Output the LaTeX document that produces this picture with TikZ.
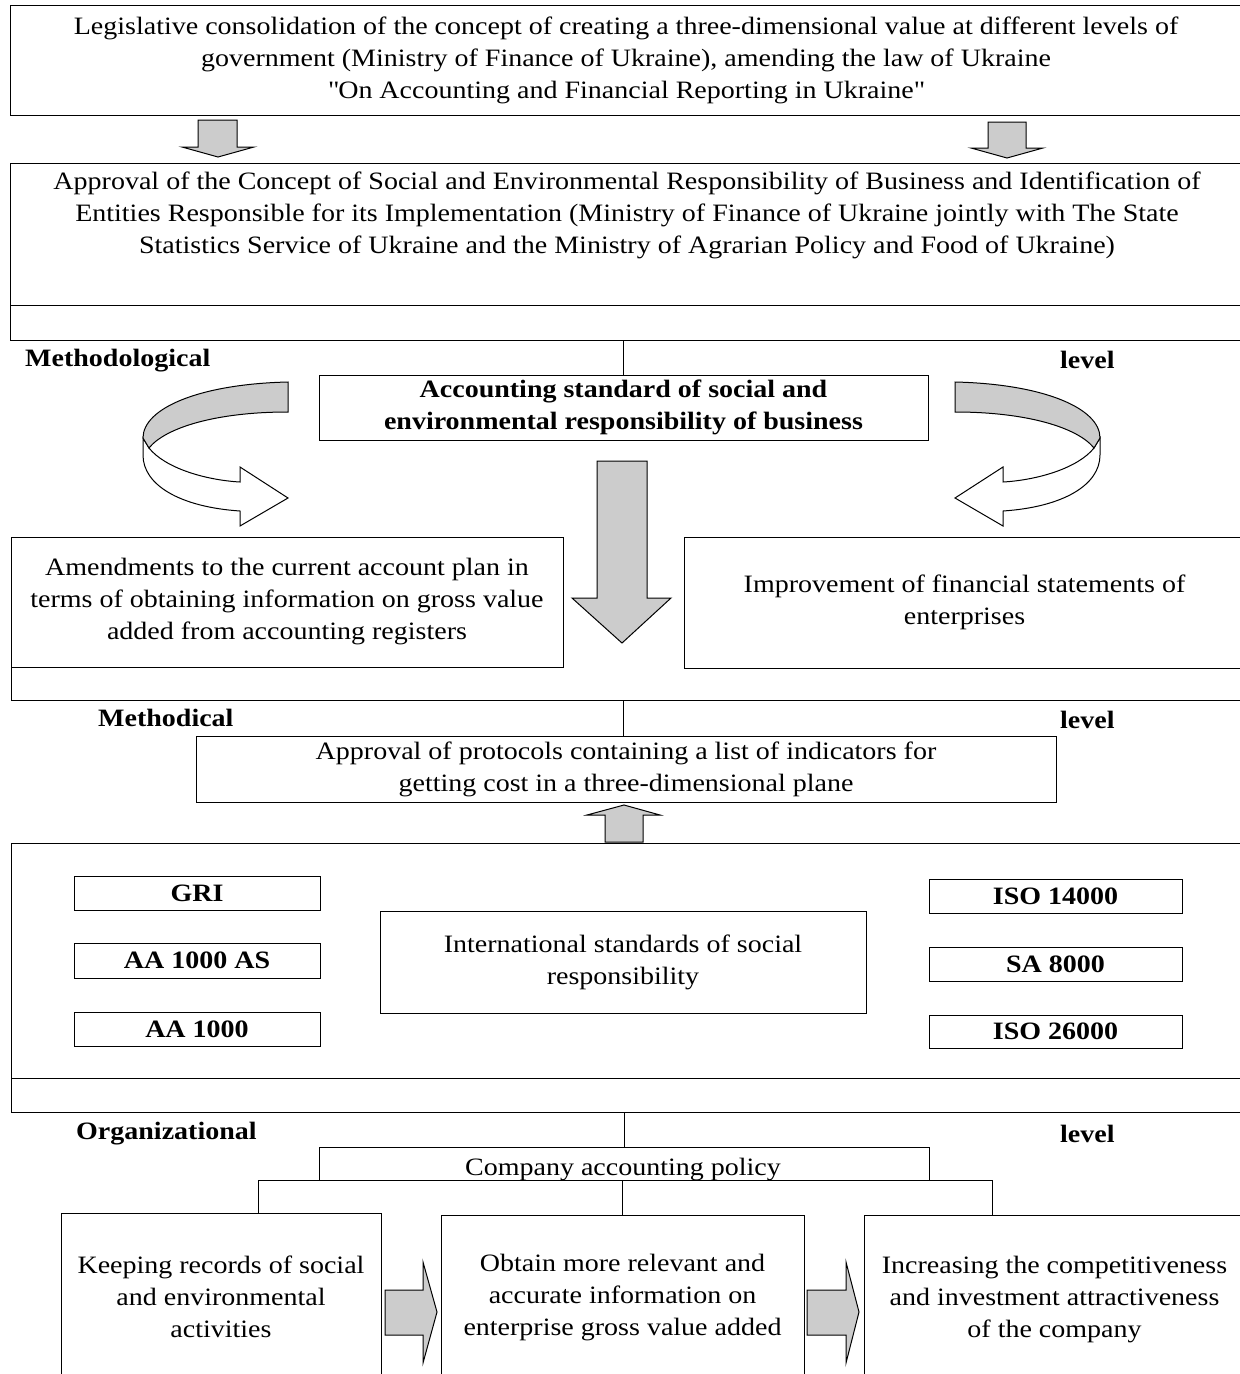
\documentclass[tikz,border=0pt]{standalone}
\usepackage{fontspec}
\setmainfont{Liberation Serif}[FakeStretch=1.12]
\newcommand\curlarr{%
  \draw[blk, fill=white] (149,448) .. controls (165,468) and (205,480) .. (240,482) -- (240,467) -- (288,498) -- (240,526) -- (240,511) .. controls (180,507) and (143,485) .. (143,455) -- (143,438) -- cycle;
  \draw[blk] (288,382) .. controls (200,384) and (143,408) .. (143,438) -- (149,448) .. controls (165,428) and (215,412) .. (288,412) -- cycle;}
\begin{document}
\begin{tikzpicture}[x=1pt,y=-1pt,
  every node/.style={font=\fontsize{25}{32}\selectfont},
  box/.style={draw, line width=1pt, inner sep=0pt, align=center},
  bbox/.style={box, font=\fontsize{25}{32}\selectfont\bfseries},
  txt/.style={inner sep=0pt, align=center},
  lvl/.style={font=\fontsize{25}{32}\selectfont\bfseries, inner sep=0pt, anchor=base west},
  blk/.style={draw, line width=1pt, fill=gray!40, line join=miter},
  ln/.style={line width=1pt}]
\useasboundingbox (0,0) rectangle (1240,1374);
\clip (0,0) rectangle (1240,1374);

% top boxes
\node[box, minimum width=1232pt, minimum height=110pt] (law) at (626,60)
  {Legislative consolidation of the concept of creating a three-dimensional value at different levels of\\
   government (Ministry of Finance of Ukraine), amending the law of Ukraine\\
   \textquotedbl On Accounting and Financial Reporting in Ukraine\textquotedbl};
\node[box, minimum width=1234pt, minimum height=142pt] (concept) at (627,234) {};
\node[txt] (concepttxt) at (627,215)
  {Approval of the Concept of Social and Environmental Responsibility of Business and Identification of\\
   Entities Responsible for its Implementation (Ministry of Finance of Ukraine jointly with The State\\
   Statistics Service of Ukraine and the Ministry of Agrarian Policy and Food of Ukraine)};
\draw[blk] (198,120) -- (237,120) -- (237,147) -- (254,147) -- (218,157) -- (182,147) -- (198,147) -- cycle;
\draw[blk] (988,122) -- (1026,122) -- (1026,148) -- (1043,148) -- (1007,158) -- (971,148) -- (988,148) -- cycle;

% methodological band
\draw[ln] (10,305) -- (10,340) -- (1250,340);
\coordinate (band1) at (623.5,340);
\node[lvl] (methlog) at (25,366) {Methodological};
\node[lvl] (lvl1) at (1060,368) {level};
\node[bbox, minimum width=609pt, minimum height=65pt] (acc) at (623.5,407.5)
  {Accounting standard of social and\\ environmental responsibility of business};
\draw[ln] (band1) -- (acc.north);
\curlarr
\begin{scope}[shift={(1243,0)}, xscale=-1]
\curlarr
\end{scope}
\node[box, minimum width=552pt, minimum height=130pt] (amend) at (287,602)
  {Amendments to the current account plan in\\ terms of obtaining information on gross value\\ added from accounting registers};
\node[box, minimum width=561pt, minimum height=131pt] (improve) at (964.5,602.5)
  {Improvement of financial statements of\\ enterprises};
\draw[blk] (597,461) -- (647,461) -- (647,598) -- (671,598) -- (622,643) -- (572,598) -- (597,598) -- cycle;

% methodical band
\draw[ln] (11,667) -- (11,700) -- (1250,700);
\coordinate (band2) at (623,700);
\node[lvl] (methcal) at (98,726) {Methodical};
\node[lvl] (lvl2) at (1060,728) {level};
\node[box, minimum width=860pt, minimum height=66pt] (proto) at (626,769)
  {Approval of protocols containing a list of indicators for\\ getting cost in a three-dimensional plane};
\draw[ln] (band2) -- (band2 |- proto.north);

% standards
\node[box, minimum width=1239pt, minimum height=235pt] (std) at (630.5,960.5) {};
\draw[blk] (605,842) -- (605,815) -- (587,815) -- (624,805) -- (660,815) -- (643,815) -- (643,842) -- cycle;
\node[bbox, minimum width=246pt, minimum height=34pt] (gri) at (197,893) {GRI};
\node[bbox, minimum width=246pt, minimum height=35pt] (aaas) at (197,960.5) {AA 1000 AS};
\node[bbox, minimum width=246pt, minimum height=34pt] (aa) at (197,1029) {AA 1000};
\node[bbox, minimum width=253pt, minimum height=34pt] (iso14) at (1055.5,896) {ISO 14000};
\node[bbox, minimum width=253pt, minimum height=34pt] (sa) at (1055.5,964) {SA 8000};
\node[bbox, minimum width=253pt, minimum height=33pt] (iso26) at (1055.5,1031.5) {ISO 26000};
\node[box, minimum width=486pt, minimum height=102pt] (intl) at (623,962)
  {International standards of social\\ responsibility};

% organizational band
\draw[ln] (11,1078) -- (11,1112) -- (1250,1112);
\coordinate (band3) at (624,1112);
\node[lvl] (org) at (76,1139) {Organizational};
\node[lvl] (lvl3) at (1060,1142) {level};
\node[box, minimum width=610pt, minimum height=33pt] (policy) at (624,1163.5) {};
\node[inner sep=0pt, anchor=base] (policytxt) at (623,1175) {Company accounting policy};
\draw[ln] (band3) -- (policy.north);

\node[box, minimum width=320pt, minimum height=168pt] (keep) at (221,1297)
  {Keeping records of social\\ and environmental\\ activities};
\node[box, minimum width=363pt, minimum height=166pt] (obtain) at (622.5,1298)
  {Obtain more relevant and\\ accurate information on\\ enterprise gross value added};
\node[box, minimum width=381pt, minimum height=170pt] (incr) at (1054.5,1300)
  {Increasing the competitiveness\\ and investment attractiveness\\ of the company};
\coordinate (tl) at (258,1180);
\coordinate (tr) at (992,1180);
\draw[ln] (keep.north -| tl) -- (tl) -- (tr) -- (incr.north -| tr);
\draw[ln] (obtain.north |- policy.south) -- (obtain.north);
\draw[blk] (385,1290) -- (423,1290) -- (423,1262) -- (437,1312) -- (423,1363) -- (423,1335) -- (385,1335) -- cycle;
\draw[blk] (807,1290) -- (846,1290) -- (846,1262) -- (859,1312) -- (846,1363) -- (846,1335) -- (807,1335) -- cycle;
\end{tikzpicture}
\end{document}
